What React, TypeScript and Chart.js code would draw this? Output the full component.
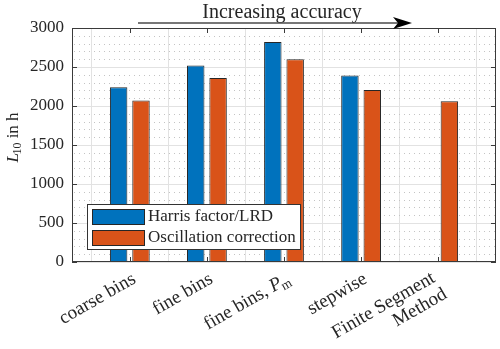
import React, { useEffect, useRef } from 'react';
import { Chart, registerables } from 'chart.js';

Chart.register(...registerables);

// ---- data ----
const categoryLabels: string[][] = [
  ['coarse bins'],
  ['fine bins'],
  ['fine bins, $P_m$'],
  ['stepwise'],
  ['Finite Segment', 'Method'],
];
const harrisValues: (number | null)[] = [2240, 2520, 2820, 2390, null];
const oscillationValues: (number | null)[] = [2070, 2360, 2600, 2205, 2060];
const yTickValues: number[] = [0, 500, 1000, 1500, 2000, 2500, 3000];
const seriesNames: string[] = ['Harris factor/LRD', 'Oscillation correction'];
const titleText = 'Increasing accuracy';
const yLabel = '$L_{10}$ in h';

const FAMILY = '"Liberation Serif", "Times New Roman", serif';
const BLUE = '#0072BD';
const ORANGE = '#D95319';
const EDGE = '#262626';
const TEXT = '#262626';

type Seg = { t: string; italic: boolean; sub: boolean };

function parseRich(s: string): Seg[] {
  const out: Seg[] = [];
  const parts = s.split('$');
  parts.forEach((p, idx) => {
    if (!p) return;
    if (idx % 2 === 0) {
      out.push({ t: p, italic: false, sub: false });
      return;
    }
    let i = 0;
    while (i < p.length) {
      const c = p[i];
      if (c === '_') {
        let sub = '';
        if (p[i + 1] === '{') {
          const j = p.indexOf('}', i + 2);
          sub = p.slice(i + 2, j);
          i = j + 1;
        } else {
          sub = p[i + 1];
          i += 2;
        }
        out.push({ t: sub, italic: false, sub: true });
      } else {
        out.push({ t: c, italic: /[A-Za-z]/.test(c), sub: false });
        i++;
      }
    }
  });
  return out;
}

function segFont(seg: Seg, size: number) {
  const s = seg.sub ? size * 0.7 : size;
  return `${seg.italic ? 'italic ' : ''}${s}px ${FAMILY}`;
}

function segAdvance(ctx: CanvasRenderingContext2D, segs: Seg[], k: number, size: number) {
  const seg = segs[k];
  ctx.font = segFont(seg, size);
  let w = ctx.measureText(seg.t).width;
  // tighten subscript after italic letter
  if (seg.italic && segs[k + 1] && segs[k + 1].sub) w -= size * 0.08;
  return w;
}

function richWidth(ctx: CanvasRenderingContext2D, segs: Seg[], size: number) {
  let w = 0;
  for (let k = 0; k < segs.length; k++) w += segAdvance(ctx, segs, k, size);
  return w;
}

function drawRich(ctx: CanvasRenderingContext2D, segs: Seg[], x: number, y: number, size: number) {
  ctx.textAlign = 'left';
  ctx.textBaseline = 'alphabetic';
  let cx = x;
  for (let k = 0; k < segs.length; k++) {
    const seg = segs[k];
    ctx.font = segFont(seg, size);
    ctx.fillText(seg.t, cx, y + (seg.sub ? size * 0.2 : 0));
    cx += segAdvance(ctx, segs, k, size);
  }
}

const decorPlugin = {
  id: 'decor',
  beforeDatasetsDraw(chart: any) {
    const { ctx, chartArea } = chart;
    const y = chart.scales.y;
    ctx.save();
    ctx.strokeStyle = '#c4c4c4';
    ctx.lineWidth = 1;
    ctx.setLineDash([1, 4]);
    for (let v = 100; v < 3000; v += 100) {
      if (v % 500 === 0) continue;
      const py = Math.round(y.getPixelForValue(v)) + 0.5;
      ctx.beginPath();
      ctx.moveTo(chartArea.left + 2, py);
      ctx.lineTo(chartArea.right, py);
      ctx.stroke();
    }
    ctx.restore();
  },
  afterDatasetsDraw(chart: any) {
    const { ctx, chartArea } = chart;
    const { left, right, top, bottom } = chartArea;
    const xs = chart.scales.x;
    const ys = chart.scales.y;
    ctx.save();
    ctx.strokeStyle = '#3a3a3a';
    ctx.lineWidth = 1;
    const tl = 5;
    ctx.beginPath();
    for (let i = 0; i < categoryLabels.length; i++) {
      const px = Math.round(xs.getPixelForValue(i + 1)) + 0.5;
      ctx.moveTo(px, bottom);
      ctx.lineTo(px, bottom - tl);
      ctx.moveTo(px, top);
      ctx.lineTo(px, top + tl);
    }
    for (const v of yTickValues) {
      const py = Math.round(ys.getPixelForValue(v)) + 0.5;
      ctx.moveTo(left, py);
      ctx.lineTo(left + tl, py);
      ctx.moveTo(right, py);
      ctx.lineTo(right - tl, py);
    }
    ctx.stroke();
    ctx.strokeRect(Math.round(left) + 0.5, Math.round(top) + 0.5, Math.round(right - left) - 1, Math.round(bottom - top) - 1);
    ctx.restore();
  },
  afterDraw(chart: any) {
    const { ctx, chartArea } = chart;
    const xs = chart.scales.x;
    ctx.save();
    ctx.fillStyle = TEXT;

    // x tick labels, rotated 30 degrees
    const xSize = 19;
    const ang = -Math.PI / 6;
    categoryLabels.forEach((lines, i) => {
      const tx = xs.getPixelForValue(i + 1);
      const ax = lines.length > 1 ? tx - 2 : tx + 7;
      const ay = lines.length > 1 ? chartArea.bottom + 19 : chartArea.bottom + 20;
      ctx.save();
      ctx.translate(ax, ay);
      ctx.rotate(ang);
      lines.forEach((line, k) => {
        const segs = parseRich(line);
        const w = richWidth(ctx, segs, xSize);
        drawRich(ctx, segs, -w + k * 2, k * 20, xSize);
      });
      ctx.restore();
    });

    // y axis label
    {
      const segs = parseRich(yLabel);
      const size = 17;
      const w = richWidth(ctx, segs, size);
      ctx.save();
      ctx.translate(18, 137.5);
      ctx.rotate(-Math.PI / 2);
      drawRich(ctx, segs, -w / 2, 0, size);
      ctx.restore();
    }

    // title + arrow
    ctx.fillStyle = TEXT;
    ctx.font = `20px ${FAMILY}`;
    ctx.textAlign = 'center';
    ctx.textBaseline = 'alphabetic';
    ctx.fillText(titleText, 282, 18);
    ctx.strokeStyle = '#4a4a4a';
    ctx.lineWidth = 1.6;
    ctx.beginPath();
    ctx.moveTo(138, 23);
    ctx.lineTo(400, 23);
    ctx.stroke();
    ctx.fillStyle = '#000';
    ctx.beginPath();
    ctx.moveTo(412, 23);
    ctx.lineTo(393, 17);
    ctx.lineTo(398, 23);
    ctx.lineTo(393, 29);
    ctx.closePath();
    ctx.fill();

    // legend
    const lx = 87, ly = 204, lw = 213, lh = 45;
    ctx.fillStyle = '#fff';
    ctx.fillRect(lx, ly, lw, lh);
    ctx.strokeStyle = '#333';
    ctx.lineWidth = 1;
    ctx.strokeRect(lx + 0.5, ly + 0.5, lw, lh);
    const colors = [BLUE, ORANGE];
    const rows = [209, 230];
    seriesNames.forEach((name, k) => {
      ctx.fillStyle = colors[k];
      ctx.fillRect(92, rows[k], 52, 15);
      ctx.strokeStyle = EDGE;
      ctx.strokeRect(92.5, rows[k] + 0.5, 52, 15);
      ctx.fillStyle = TEXT;
      ctx.font = `17px ${FAMILY}`;
      ctx.textAlign = 'left';
      ctx.textBaseline = 'middle';
      ctx.fillText(name, 148, rows[k] + 8);
    });
    ctx.restore();
  },
};

export default function App() {
  const ref = useRef<HTMLCanvasElement | null>(null);
  useEffect(() => {
    document.body.style.margin = '0';
    const canvas = ref.current;
    if (!canvas) return;
    const chart = new Chart(canvas, {
      type: 'bar',
      data: {
        datasets: [
          {
            label: seriesNames[0],
            data: harrisValues.map((v, i) => ({ x: i + 1, y: v })) as any,
            backgroundColor: BLUE,
            borderColor: EDGE,
            borderWidth: 1,
          },
          {
            label: seriesNames[1],
            data: oscillationValues.map((v, i) => ({ x: i + 1, y: v })) as any,
            backgroundColor: ORANGE,
            borderColor: EDGE,
            borderWidth: 1,
          },
        ],
      },
      options: {
        responsive: false,
        animation: false,
        layout: { padding: { top: 28, right: 4, left: 0, bottom: 0 } },
        plugins: { legend: { display: false }, tooltip: { enabled: false } },
        datasets: { bar: { categoryPercentage: 0.58, barPercentage: 0.78 } } as any,
        scales: {
          x: {
            type: 'linear',
            min: 0.25,
            max: 5.75,
            offset: false,
            afterBuildTicks: (s: any) => {
              s.ticks = categoryLabels.map((_, i) => ({ value: i + 1 }));
            },
            ticks: { display: false },
            grid: { color: '#e2e2e2', drawTicks: false },
            border: { display: false },
            afterFit: (s: any) => {
              s.height = 87;
            },
          },
          y: {
            type: 'linear',
            min: 0,
            max: 3000,
            afterBuildTicks: (s: any) => {
              s.ticks = yTickValues.map((v) => ({ value: v }));
            },
            ticks: {
              font: { family: FAMILY, size: 17 },
              color: TEXT,
              padding: 8,
              callback: (v: any) => String(v),
            },
            grid: { color: '#e2e2e2', drawTicks: false },
            border: { display: false },
            afterFit: (s: any) => {
              s.width = 72;
            },
          },
        } as any,
      },
      plugins: [decorPlugin],
    });
    return () => chart.destroy();
  }, []);
  return (
    <div style={{ width: 500, height: 349 }}>
      <canvas ref={ref} width={500} height={349} style={{ display: 'block' }} />
    </div>
  );
}
